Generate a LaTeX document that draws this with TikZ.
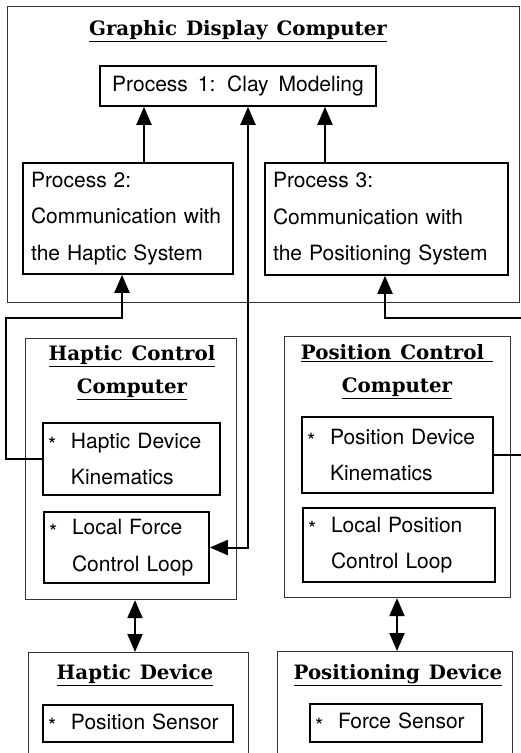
\documentclass[tikz,border=0pt]{standalone}
\usepackage{fontspec}
\newfontfamily\hv[WordSpace=1.7]{TeX Gyre Heros}
\newfontfamily\ser[WordSpace=1.3]{DejaVu Serif}
\usetikzlibrary{arrows.meta}
\newcommand\bul{\makebox[23pt][l]{\raisebox{-0.22em}{*}}}
\newcommand\ind{\hspace*{23pt}}
\tikzset{
  outer/.style={draw=black!80, line width=1.1pt, inner sep=0pt},
  inbox/.style={draw, line width=1.6pt, font=\hv\fontsize{21}{36.5}\selectfont, align=left, inner xsep=5pt, inner ysep=0pt},
  ttl/.style={font=\ser\bfseries\fontsize{19.8}{33}\selectfont, align=center, inner sep=0pt},
  conn/.style={line width=2pt},
  arr/.style={-{Triangle[length=18pt,width=15pt]}},
  dbl/.style={{Triangle[length=18pt,width=15pt]}-{Triangle[length=18pt,width=15pt]}}
}
\begin{document}
\begin{tikzpicture}[x=1pt,y=-1pt]
\useasboundingbox (0,0) rectangle (521,753);
\clip (0,0) rectangle (521,753);
% outer containers
\node[outer, minimum width=512pt, minimum height=296pt, anchor=north west] (gdc) at (7,6) {};
\node[outer, minimum width=211pt, minimum height=261pt, anchor=north west] (hcc) at (25,338) {};
\node[outer, minimum width=226pt, minimum height=261pt, anchor=north west] (pcc) at (284,336) {};
\node[outer, minimum width=220pt, minimum height=104pt, anchor=north west] (hd) at (28,652) {};
\node[outer, minimum width=235pt, minimum height=105pt, anchor=north west] (pd) at (277,651) {};
% titles
\node[ttl] (gdct) at (238,31) {\underline{Graphic Display Computer}};
\node[ttl] (hcct) at (132,373) {\underline{Haptic Control}\\\underline{Computer}};
\node[ttl] (pcct) at (397,372) {\underline{Position Control\ }\\\underline{Computer}};
\node[ttl] (hdt) at (135,675) {\underline{Haptic Device}};
\node[ttl] (pdt) at (398,675) {\underline{Positioning Device}};
% inner boxes
\node[inbox, align=center, minimum width=276pt, minimum height=40pt] (p1) at (238,86) {Process 1: Clay Modeling};
\node[inbox, inner xsep=8pt, text width=194pt, minimum height=111pt] (p2) at (128,218.5) {Process 2:\\Communication with\\the Haptic System};
\node[inbox, inner xsep=8pt, text width=227pt, minimum height=112pt] (p3) at (386.5,219) {Process 3:\\Communication with\\the Positioning System};
\node[inbox, text width=167pt, minimum height=72pt] (hk) at (131.5,459) {\bul Haptic Device\\\ind Kinematics};
\node[inbox, text width=155pt, minimum height=71pt] (hl) at (126.5,547.5) {\bul Local Force\\\ind Control Loop};
\node[inbox, text width=181pt, minimum height=76pt] (pk) at (397.5,455) {\bul Position Device\\\ind Kinematics};
\node[inbox, text width=182pt, minimum height=74pt] (pl) at (399,545) {\bul Local Position\\\ind Control Loop};
\node[inbox, text width=180pt, minimum height=37pt] (ps) at (138,723.5) {\bul Position Sensor};
\node[inbox, text width=162pt, minimum height=38pt] (fs) at (396,723) {\bul Force Sensor};
% helper coordinates
\coordinate (xa) at (144,0);
\coordinate (xb) at (248,0);
\coordinate (xc) at (325,0);
\coordinate (xd) at (122,0);
\coordinate (xe) at (385,0);
\coordinate (xl) at (6,0);
\coordinate (xr) at (535,0);
\coordinate (yh) at (0,318);
\coordinate (xf) at (135,0);
\coordinate (xg) at (397,0);
% connectors
\draw[conn, arr] (p2.north -| xa) -- (p1.south -| xa);
\draw[conn, arr] (p3.north -| xc) -- (p1.south -| xc);
\draw[conn, dbl] (hl.east) -| (p1.south -| xb);
\draw[conn, arr] (hk.west) -- (hk.west -| xl) -- (xl |- yh) -- (xd |- yh) -- (p2.south -| xd);
\draw[conn, arr] (pk.east) -- (pk.east -| xr) -- (xr |- yh) -- (xe |- yh) -- (p3.south -| xe);
\draw[conn, dbl] (hcc.south -| xf) -- (hd.north -| xf);
\draw[conn, dbl] (pcc.south -| xg) -- (pd.north -| xg);
\end{tikzpicture}
\end{document}
